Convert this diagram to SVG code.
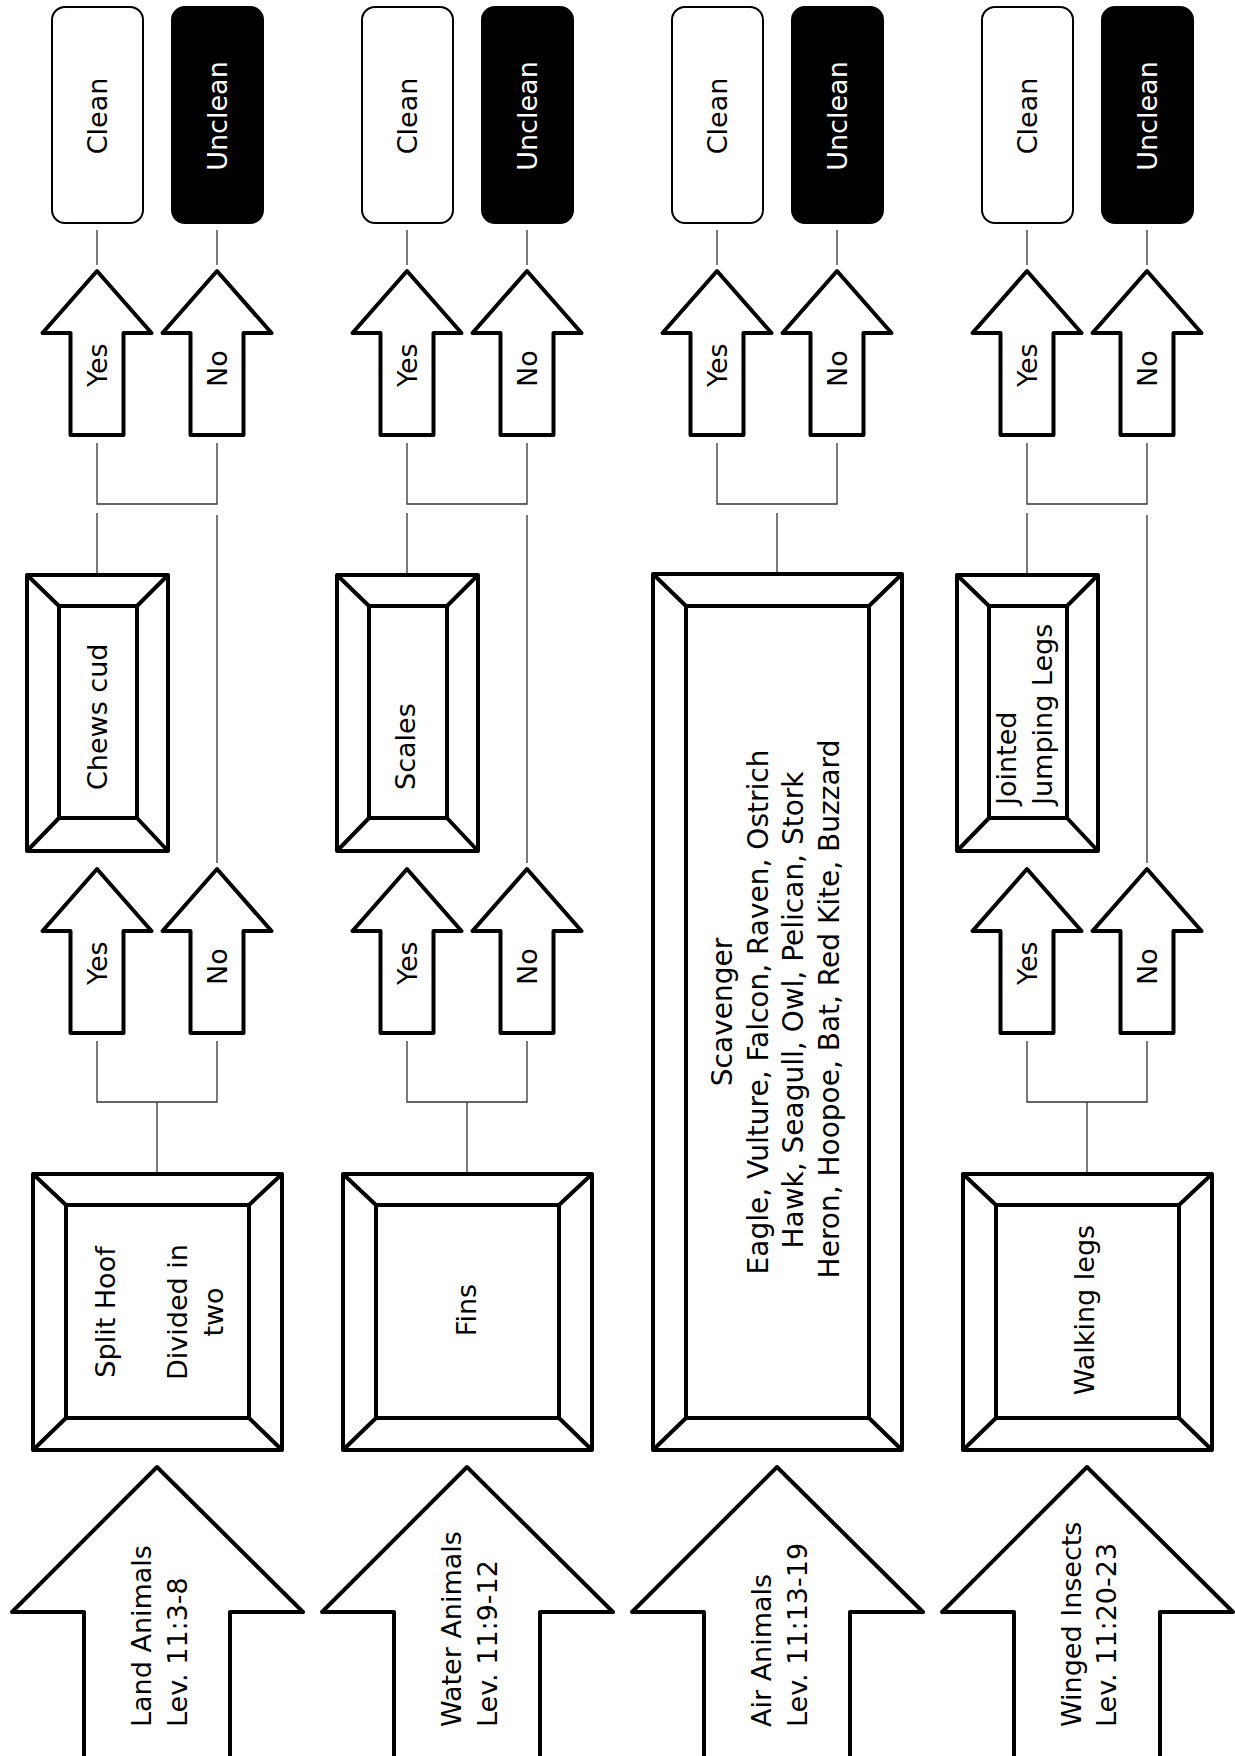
<svg xmlns="http://www.w3.org/2000/svg" xmlns:xlink="http://www.w3.org/1999/xlink" width="1235" height="1756" viewBox="0 0 1235 1756">
<style>
.t{font-family:'DejaVu Sans','Noto Sans',sans-serif;font-size:27px;fill:#000}
.a{font-size:28px}
.w{fill:#fff}
.m{text-anchor:middle;dominant-baseline:central}
.s{text-anchor:start;dominant-baseline:central}
.sh{fill:#fff;stroke:#000;stroke-width:4;stroke-linejoin:round}
.bx{fill:none;stroke:#000;stroke-width:4;stroke-linejoin:round}
.cl{fill:#fff;stroke:#000;stroke-width:2}
.un{fill:#000;stroke:#000;stroke-width:2}
.cn{fill:none;stroke:#333;stroke-width:1.3}
</style>
<defs>
<path id="sa" d="M0,0 L54.5,62 L26.5,62 L26.5,164 L-26.5,164 L-26.5,62 L-54.5,62 Z"/>
<path id="ba" d="M0,0 L146,145 L73,145 L73,300 L-73,300 L-73,145 L-145,145 Z"/>
</defs>
<rect width="1235" height="1756" fill="#fff"/>

<g id="connectors" class="cn">
  <path d="M97,230V265 M217,230V265 M97,443V504H217V443 M97,513V575 M217,515V863 M97,1041V1102H217V1041 M157,1102V1174"/>
  <path d="M407,230V265 M527,230V265 M407,443V504H527V443 M407,513V575 M527,515V863 M407,1041V1102H527V1041 M467,1102V1174"/>
  <path d="M717,230V265 M837,230V265 M717,443V504H837V443 M777,513V574"/>
  <path d="M1027,230V265 M1147,230V265 M1027,443V504H1147V443 M1027,513V575 M1147,515V863 M1027,1041V1102H1147V1041 M1087,1102V1174"/>
</g>

<!-- Column 1: Land -->
<g id="clean1"><rect class="cl" x="52" y="7" width="91" height="216" rx="13"/><text class="t m" transform="translate(97,116) rotate(-90)">Clean</text></g>
<g id="unclean1"><rect class="un" x="172" y="7" width="91" height="216" rx="13"/><text class="t w m" transform="translate(217,116) rotate(-90)">Unclean</text></g>
<g id="yes1a"><use xlink:href="#sa" class="sh" x="97" y="271"/><text class="t s" transform="translate(97,387) rotate(-90)">Yes</text></g>
<g id="no1a"><use xlink:href="#sa" class="sh" x="217" y="271"/><text class="t s" transform="translate(217,387) rotate(-90)">No</text></g>
<g id="chewscud"><rect class="sh" x="27" y="575" width="141" height="276"/><path class="bx" d="M59,606H137V818H59Z M27,575L59,606 M168,575L137,606 M27,851L59,818 M168,851L137,818"/><text class="t s" transform="translate(97,790) rotate(-90)">Chews cud</text></g>
<g id="yes1b"><use xlink:href="#sa" class="sh" x="97" y="869"/><text class="t s" transform="translate(97,985) rotate(-90)">Yes</text></g>
<g id="no1b"><use xlink:href="#sa" class="sh" x="217" y="869"/><text class="t s" transform="translate(217,985) rotate(-90)">No</text></g>
<g id="splithoof"><rect class="sh" x="33" y="1174" width="249" height="276"/><path class="bx" d="M66,1205H249V1418H66Z M33,1174L66,1205 M282,1174L249,1205 M33,1450L66,1418 M282,1450L249,1418"/>
<text class="t m" transform="translate(105,1312) rotate(-90)">Split Hoof</text>
<text class="t m" transform="translate(177,1312) rotate(-90)">Divided in</text>
<text class="t m" transform="translate(213,1312) rotate(-90)">two</text></g>
<g id="land"><use xlink:href="#ba" class="sh" x="157" y="1467"/><text class="t s" transform="translate(141,1727) rotate(-90)">Land Animals</text><text class="t s" transform="translate(177,1727) rotate(-90)">Lev. 11:3-8</text></g>

<!-- Column 2: Water -->
<g id="clean2"><rect class="cl" x="362" y="7" width="91" height="216" rx="13"/><text class="t m" transform="translate(407,116) rotate(-90)">Clean</text></g>
<g id="unclean2"><rect class="un" x="482" y="7" width="91" height="216" rx="13"/><text class="t w m" transform="translate(527,116) rotate(-90)">Unclean</text></g>
<g id="yes2a"><use xlink:href="#sa" class="sh" x="407" y="271"/><text class="t s" transform="translate(407,387) rotate(-90)">Yes</text></g>
<g id="no2a"><use xlink:href="#sa" class="sh" x="527" y="271"/><text class="t s" transform="translate(527,387) rotate(-90)">No</text></g>
<g id="scales"><rect class="sh" x="337" y="575" width="141" height="276"/><path class="bx" d="M369,606H447V818H369Z M337,575L369,606 M478,575L447,606 M337,851L369,818 M478,851L447,818"/><text class="t s" transform="translate(405,790) rotate(-90)">Scales</text></g>
<g id="yes2b"><use xlink:href="#sa" class="sh" x="407" y="869"/><text class="t s" transform="translate(407,985) rotate(-90)">Yes</text></g>
<g id="no2b"><use xlink:href="#sa" class="sh" x="527" y="869"/><text class="t s" transform="translate(527,985) rotate(-90)">No</text></g>
<g id="fins"><rect class="sh" x="343" y="1174" width="249" height="276"/><path class="bx" d="M376,1205H559V1418H376Z M343,1174L376,1205 M592,1174L559,1205 M343,1450L376,1418 M592,1450L559,1418"/><text class="t m" transform="translate(466,1310) rotate(-90)">Fins</text></g>
<g id="water"><use xlink:href="#ba" class="sh" x="467" y="1467"/><text class="t s" transform="translate(451,1727) rotate(-90)">Water Animals</text><text class="t s" transform="translate(487,1727) rotate(-90)">Lev. 11:9-12</text></g>

<!-- Column 3: Air -->
<g id="clean3"><rect class="cl" x="672" y="7" width="91" height="216" rx="13"/><text class="t m" transform="translate(717,116) rotate(-90)">Clean</text></g>
<g id="unclean3"><rect class="un" x="792" y="7" width="91" height="216" rx="13"/><text class="t w m" transform="translate(837,116) rotate(-90)">Unclean</text></g>
<g id="yes3"><use xlink:href="#sa" class="sh" x="717" y="271"/><text class="t s" transform="translate(717,387) rotate(-90)">Yes</text></g>
<g id="no3"><use xlink:href="#sa" class="sh" x="837" y="271"/><text class="t s" transform="translate(837,387) rotate(-90)">No</text></g>
<g id="scavenger"><rect class="sh" x="653" y="574" width="249" height="876"/><path class="bx" d="M686,606H869V1418H686Z M653,574L686,606 M902,574L869,606 M653,1450L686,1418 M902,1450L869,1418"/>
<text class="t a m" transform="translate(722,1012) rotate(-90)">Scavenger</text>
<text class="t a m" transform="translate(758,1012) rotate(-90)">Eagle, Vulture, Falcon, Raven, Ostrich</text>
<text class="t a m" transform="translate(793,1010) rotate(-90)">Hawk, Seagull, Owl, Pelican, Stork</text>
<text class="t a m" transform="translate(829,1009) rotate(-90)">Heron, Hoopoe, Bat, Red Kite, Buzzard</text></g>
<g id="air"><use xlink:href="#ba" class="sh" x="777" y="1467"/><text class="t s" transform="translate(761,1727) rotate(-90)">Air Animals</text><text class="t s" transform="translate(797,1727) rotate(-90)">Lev. 11:13-19</text></g>

<!-- Column 4: Winged Insects -->
<g id="clean4"><rect class="cl" x="982" y="7" width="91" height="216" rx="13"/><text class="t m" transform="translate(1027,116) rotate(-90)">Clean</text></g>
<g id="unclean4"><rect class="un" x="1102" y="7" width="91" height="216" rx="13"/><text class="t w m" transform="translate(1147,116) rotate(-90)">Unclean</text></g>
<g id="yes4a"><use xlink:href="#sa" class="sh" x="1027" y="271"/><text class="t s" transform="translate(1027,387) rotate(-90)">Yes</text></g>
<g id="no4a"><use xlink:href="#sa" class="sh" x="1147" y="271"/><text class="t s" transform="translate(1147,387) rotate(-90)">No</text></g>
<g id="jumping"><rect class="sh" x="957" y="575" width="141" height="276"/><path class="bx" d="M989,606H1067V818H989Z M957,575L989,606 M1098,575L1067,606 M957,851L989,818 M1098,851L1067,818"/>
<text class="t s" transform="translate(1006,805) rotate(-90)">Jointed</text>
<text class="t s" transform="translate(1042,805) rotate(-90)">Jumping Legs</text></g>
<g id="yes4b"><use xlink:href="#sa" class="sh" x="1027" y="869"/><text class="t s" transform="translate(1027,985) rotate(-90)">Yes</text></g>
<g id="no4b"><use xlink:href="#sa" class="sh" x="1147" y="869"/><text class="t s" transform="translate(1147,985) rotate(-90)">No</text></g>
<g id="walking"><rect class="sh" x="963" y="1174" width="249" height="276"/><path class="bx" d="M996,1205H1179V1418H996Z M963,1174L996,1205 M1212,1174L1179,1205 M963,1450L996,1418 M1212,1450L1179,1418"/><text class="t m" transform="translate(1084,1310) rotate(-90)">Walking legs</text></g>
<g id="winged"><use xlink:href="#ba" class="sh" x="1087" y="1467"/><text class="t s" transform="translate(1071,1727) rotate(-90)">Winged Insects</text><text class="t s" transform="translate(1106,1727) rotate(-90)">Lev. 11:20-23</text></g>
</svg>
